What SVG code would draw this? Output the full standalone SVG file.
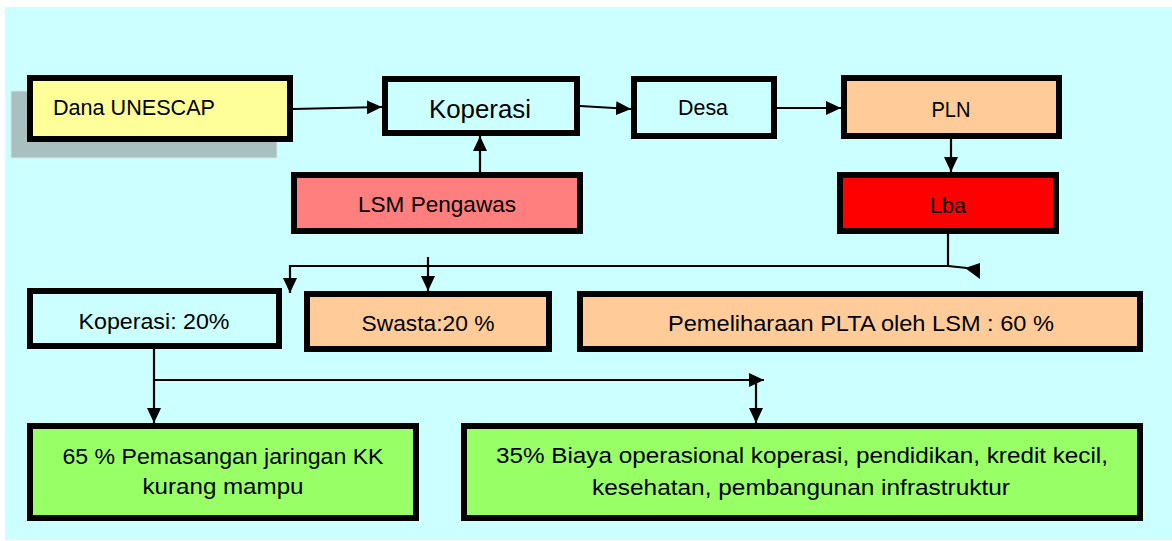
<svg xmlns="http://www.w3.org/2000/svg" width="1172" height="541" viewBox="0 0 1172 541">
<style>
.box{stroke:#000;stroke-width:6}
.t{font-family:"Liberation Sans",Arial,sans-serif;font-size:22px;fill:#000}
.c{text-anchor:middle}
.ln{fill:none;stroke:#000;stroke-width:2.2}
</style>
<defs>
<marker id="ah" markerUnits="userSpaceOnUse" markerWidth="16" markerHeight="16" viewBox="0 0 16 16" refX="15" refY="8" orient="auto">
<path d="M0,1 L15,8 L0,15 Z" fill="#000"/>
</marker>
</defs>
<rect x="0" y="0" width="1172" height="541" fill="#fff"/>
<rect x="5" y="7" width="1167" height="533" fill="#CCFFFF"/>

<g id="n-dana">
<rect x="11" y="91" width="266" height="67" fill="#A8C0C0" stroke="#D4E6E6" stroke-width="1"/>
<rect class="box" x="30" y="78" width="260" height="61" fill="#FFFF99"/>
<text class="t" x="53" y="115" textLength="162" lengthAdjust="spacingAndGlyphs">Dana UNESCAP</text>
</g>
<g id="n-koperasi">
<rect class="box" x="385" y="79" width="192" height="54" fill="#CCFFFF"/>
<text class="t c" x="480" y="118" style="font-size:25px" textLength="102" lengthAdjust="spacingAndGlyphs">Koperasi</text>
</g>
<g id="n-desa">
<rect class="box" x="634" y="79" width="140" height="57" fill="#CCFFFF"/>
<text class="t c" x="703" y="115" textLength="50" lengthAdjust="spacingAndGlyphs">Desa</text>
</g>
<g id="n-pln">
<rect class="box" x="844" y="78" width="215" height="58" fill="#FFCC99"/>
<text class="t c" x="951" y="117" textLength="39" lengthAdjust="spacingAndGlyphs">PLN</text>
</g>
<g id="n-lsm">
<rect class="box" x="294" y="175" width="286" height="56" fill="#FF7F7F"/>
<text class="t c" x="437" y="212" textLength="158" lengthAdjust="spacingAndGlyphs">LSM Pengawas</text>
</g>
<g id="n-lba">
<rect class="box" x="840" y="175" width="216" height="56" fill="#FF0000"/>
<text class="t c" x="948" y="213" textLength="36" lengthAdjust="spacingAndGlyphs">Lba</text>
</g>
<g id="n-kop20">
<rect class="box" x="30" y="291" width="249" height="55" fill="#CCFFFF"/>
<text class="t c" x="154" y="329" textLength="151" lengthAdjust="spacingAndGlyphs">Koperasi: 20%</text>
</g>
<g id="n-swasta">
<rect class="box" x="307" y="294" width="242" height="55" fill="#FFCC99"/>
<text class="t c" x="428" y="331" textLength="133" lengthAdjust="spacingAndGlyphs">Swasta:20 %</text>
</g>
<g id="n-pemeliharaan">
<rect class="box" x="580" y="294" width="560" height="55" fill="#FFCC99"/>
<text class="t c" x="861" y="331" textLength="386" lengthAdjust="spacingAndGlyphs">Pemeliharaan PLTA oleh LSM : 60 %</text>
</g>
<g id="n-65">
<rect class="box" x="30" y="426" width="386" height="92" fill="#99FF66"/>
<text class="t c" x="223" y="464" textLength="321" lengthAdjust="spacingAndGlyphs">65 % Pemasangan jaringan KK</text>
<text class="t c" x="223" y="494" textLength="161" lengthAdjust="spacingAndGlyphs">kurang mampu</text>
</g>
<g id="n-35">
<rect class="box" x="464" y="426" width="676" height="92" fill="#99FF66"/>
<text class="t c" x="802" y="463" textLength="612" lengthAdjust="spacingAndGlyphs">35% Biaya operasional koperasi, pendidikan, kredit kecil,</text>
<text class="t c" x="801" y="495" textLength="418" lengthAdjust="spacingAndGlyphs">kesehatan, pembangunan infrastruktur</text>
</g>

<g id="connectors">
<line class="ln" x1="293" y1="109" x2="382" y2="107" marker-end="url(#ah)"/>
<line class="ln" x1="580" y1="106" x2="631" y2="109" marker-end="url(#ah)"/>
<line class="ln" x1="777" y1="108" x2="841" y2="108" marker-end="url(#ah)"/>
<line class="ln" x1="480" y1="172" x2="480" y2="136" marker-end="url(#ah)"/>
<line class="ln" x1="951" y1="139" x2="951" y2="172" marker-end="url(#ah)"/>
<polyline class="ln" points="948,234 948,266 290,266 290,293" marker-end="url(#ah)"/>
<line class="ln" x1="428" y1="257" x2="428" y2="291" marker-end="url(#ah)"/>
<polyline class="ln" points="948,266 967,268"/>
<polygon points="965,268 980,263 980,279" fill="#000"/>
<line class="ln" x1="154" y1="349" x2="154" y2="423" marker-end="url(#ah)"/>
<line class="ln" x1="154" y1="380" x2="764" y2="380" marker-end="url(#ah)"/>
<line class="ln" x1="756" y1="383" x2="756" y2="423" marker-end="url(#ah)"/>
</g>
</svg>
